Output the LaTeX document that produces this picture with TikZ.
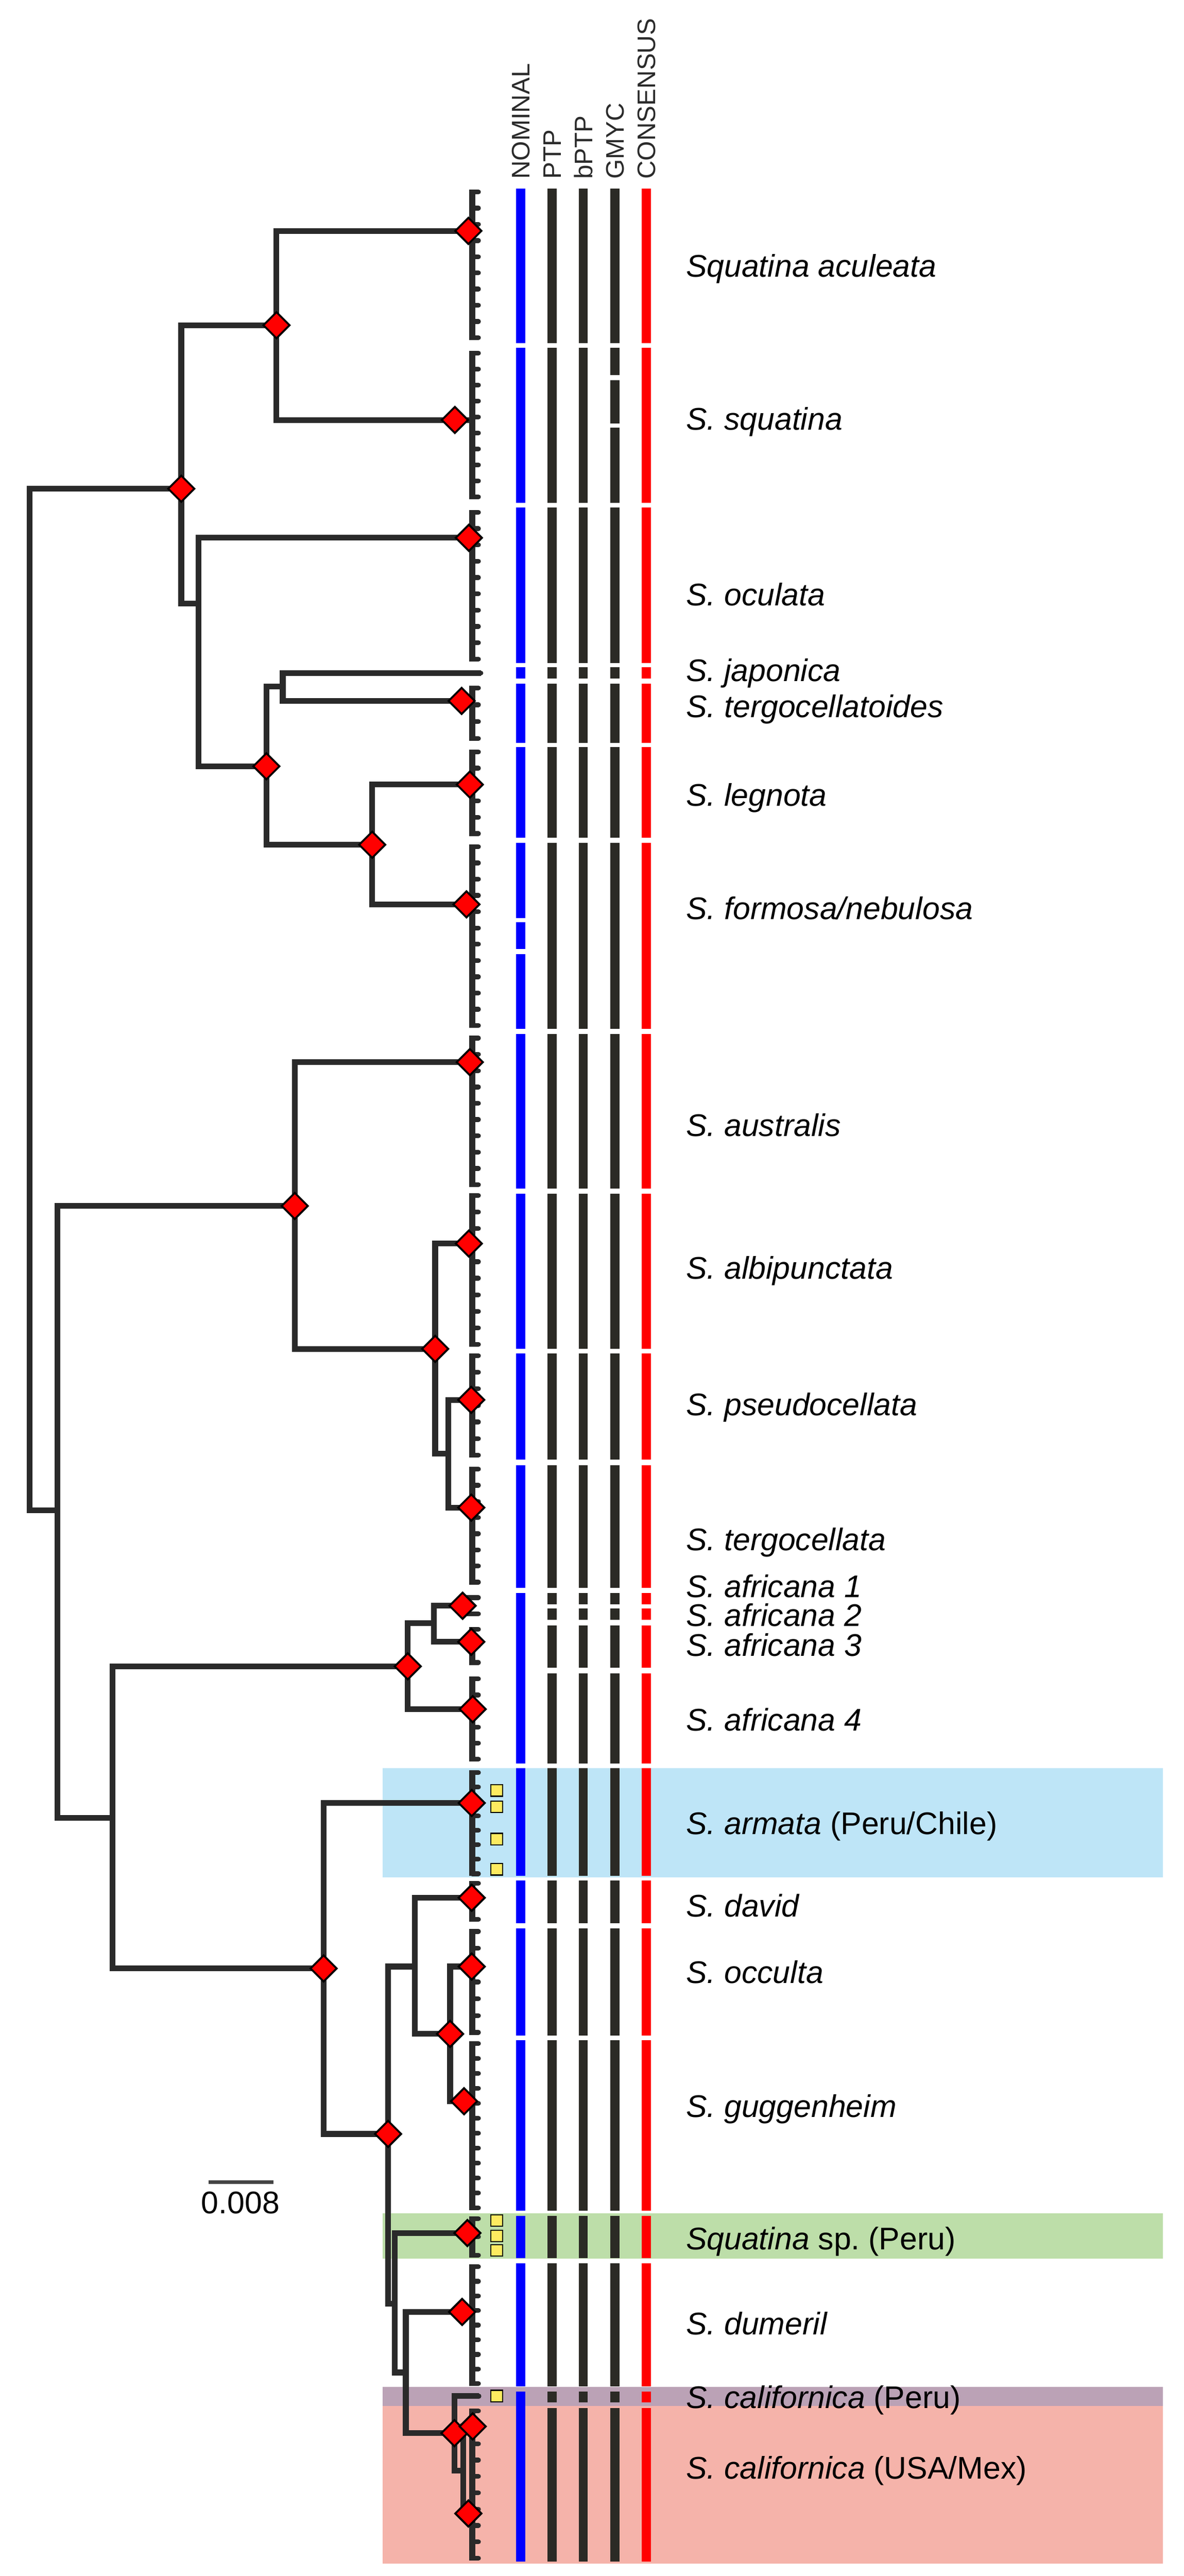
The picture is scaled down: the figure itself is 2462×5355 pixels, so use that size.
\documentclass[tikz,border=0pt]{standalone}
\usepackage{fontspec}
\setmainfont{Liberation Sans}
\usepackage{xcolor}
\usepackage{tikz}
\usetikzlibrary{shapes.geometric, positioning, backgrounds}

\definecolor{branchgray}{HTML}{2A2A2A}
\definecolor{bargray}{HTML}{2B2A25}
\definecolor{headgray}{HTML}{2B2B2B}
\definecolor{scalegray}{HTML}{444444}
\definecolor{nomblue}{HTML}{0000FF}
\definecolor{consred}{HTML}{FF0000}
\definecolor{armatabg}{HTML}{BEE5F7}
\definecolor{perubg}{HTML}{BDDEA9}
\definecolor{caliperubg}{HTML}{BBA2B6}
\definecolor{calibg}{HTML}{F5B3AA}
\definecolor{flagyellow}{HTML}{FDEB60}

% tips of one clade: x, first tip, last tip, number of tips
\newcommand{\leafgroup}[4]{%
  \draw[branch] (#1,#2-5) -- (#1,#3+5);
  \foreach \k in {1,...,#4}{%
    \pgfmathsetmacro{\leafy}{#2+(#3-#2)*(\k-1)/(#4-1)}%
    \draw[leaftick] (#1,\leafy) -- (995,\leafy);
  }%
}
% one delimitation column: x, colour, list of segments
\newcommand{\speciesbar}[3]{%
  \foreach \ya/\yb in #3 {\fill[#2] (#1-9.5,\ya) rectangle (#1+9.5,\yb);}%
}
\def\nomsegs{392/713, 723/1045, 1055/1378, 1387/1410, 1421/1544, 1553/1741, 1752/1908, 1917/1973, 1983/2139, 2150/2471, 2482/2804, 2813/3034, 3046/3301, 3312/3666, 3676/3900, 3909/3998, 4009/4231, 4241/4596, 4606/4694, 4705/4961, 4971/5325}
\def\ptpsegs{392/713, 723/1045, 1055/1378, 1387/1410, 1421/1544, 1553/1741, 1752/2139, 2150/2471, 2482/2804, 2813/3034, 3046/3301, 3312/3335, 3344/3367, 3379/3467, 3479/3666, 3676/3900, 3909/3998, 4009/4231, 4241/4596, 4606/4694, 4705/4961, 4971/4994, 5006/5325}
\def\gmycsegs{392/713, 723/780, 790/880, 889/1045, 1055/1378, 1387/1410, 1421/1544, 1553/1741, 1752/2139, 2150/2471, 2482/2804, 2813/3034, 3046/3301, 3312/3335, 3344/3367, 3379/3467, 3479/3666, 3676/3900, 3909/3998, 4009/4231, 4241/4596, 4606/4694, 4705/4961, 4971/4994, 5006/5325}

\begin{document}
\begin{tikzpicture}[
    x=0.01cm, y=-0.01cm,
    branch/.style={draw=branchgray, line width=0.12cm},
    leaftick/.style={draw=branchgray, line width=0.1cm, line cap=round},
    support/.style={diamond, draw=black, fill=red, line width=0.04cm, minimum width=0.56cm, minimum height=0.56cm, inner sep=0pt},
    peruflag/.style={rectangle, draw=black, fill=flagyellow, line width=0.025cm, minimum size=0.24cm, inner sep=0pt},
    colheader/.style={rotate=90, anchor=base west, inner sep=0pt, text=headgray, font=\fontsize{15}{15}\selectfont},
    taxon/.style={anchor=base west, inner sep=0pt, yshift=-0.23cm, font=\fontsize{18.5}{20}\selectfont\itshape},
    scalebar/.style={draw=scalegray, line width=0.07cm}
]
    \useasboundingbox (0,0) rectangle (2462,5355);

    % --- Highlight bands ---
    \begin{scope}[on background layer]
        \fill[armatabg] (796,3676) rectangle (2418,3903);
        \fill[perubg] (796,4601) rectangle (2418,4695);
        \fill[caliperubg] (796,4962) rectangle (2418,5002);
        \fill[calibg] (796,5002) rectangle (2418,5329);
    \end{scope}

    % --- Internal nodes ---
    \coordinate (nRoot) at (62,2078);
    \coordinate (nA) at (377,1016);
    \coordinate (nB) at (575,676);
    \coordinate (nC) at (413,1255);
    \coordinate (nD) at (554,1593);
    \coordinate (nE) at (588,1427);
    \coordinate (nF) at (774,1756);
    \coordinate (nJ) at (119,3140);
    \coordinate (nG) at (613,2507);
    \coordinate (nH) at (905,2804);
    \coordinate (nI) at (932,3022);
    \coordinate (nK) at (234,3779);
    \coordinate (nL) at (848,3464);
    \coordinate (nLa) at (902,3374);
    \coordinate (nM) at (673,4092);
    \coordinate (nN) at (807,4436);
    \coordinate (nO) at (863,4088);
    \coordinate (nP) at (936,4228);
    \coordinate (nQ) at (821,4789);
    \coordinate (nR) at (844,4932);
    \coordinate (nS) at (945,5058);
    \coordinate (nT) at (963,5136);

    % --- Clade bases and single tips ---
    \coordinate (cAcu) at (982,480);
    \coordinate (cSqu) at (982,873);
    \coordinate (cOcu) at (982,1118);
    \coordinate (tJap) at (1000,1399);
    \coordinate (cTerg) at (982,1457);
    \coordinate (cLeg) at (982,1631);
    \coordinate (cFor) at (982,1880);
    \coordinate (cAus) at (982,2208);
    \coordinate (cAlb) at (982,2585);
    \coordinate (cPse) at (982,2910);
    \coordinate (cTgc) at (982,3134);
    \coordinate (cAfa) at (962,3338);
    \coordinate (cAfc) at (982,3413);
    \coordinate (cAfd) at (982,3553);
    \coordinate (cArm) at (982,3748);
    \coordinate (cDav) at (982,3945);
    \coordinate (cOcc) at (982,4088);
    \coordinate (cGug) at (982,4368);
    \coordinate (cSp) at (982,4642);
    \coordinate (cDum) at (982,4806);
    \coordinate (tPeru) at (996,4981);
    \coordinate (cUSa) at (982,5044);
    \coordinate (cUSb) at (982,5225);

    % --- Branches ---
    \draw[branch] (nRoot) |- (nA);
    \draw[branch] (nRoot) |- (nJ);
    \draw[branch] (nA) |- (nB);
    \draw[branch] (nA) |- (nC);
    \draw[branch] (nB) |- (cAcu);
    \draw[branch] (nB) |- (cSqu);
    \draw[branch] (nC) |- (cOcu);
    \draw[branch] (nC) |- (nD);
    \draw[branch] (nD) |- (nE);
    \draw[branch] (nD) |- (nF);
    \draw[branch] (nE) |- (tJap);
    \draw[branch] (nE) |- (cTerg);
    \draw[branch] (nF) |- (cLeg);
    \draw[branch] (nF) |- (cFor);
    \draw[branch] (nJ) |- (nG);
    \draw[branch] (nJ) |- (nK);
    \draw[branch] (nG) |- (cAus);
    \draw[branch] (nG) |- (nH);
    \draw[branch] (nH) |- (cAlb);
    \draw[branch] (nH) |- (nI);
    \draw[branch] (nI) |- (cPse);
    \draw[branch] (nI) |- (cTgc);
    \draw[branch] (nK) |- (nL);
    \draw[branch] (nK) |- (nM);
    \draw[branch] (nL) |- (nLa);
    \draw[branch] (nL) |- (cAfd);
    \draw[branch] (nLa) |- (cAfa);
    \draw[branch] (nLa) |- (cAfc);
    \draw[branch] (nM) |- (cArm);
    \draw[branch] (nM) |- (nN);
    \draw[branch] (nN) |- (nO);
    \draw[branch] (nN) |- (nQ);
    \draw[branch] (nO) |- (cDav);
    \draw[branch] (nO) |- (nP);
    \draw[branch] (nP) |- (cOcc);
    \draw[branch] (nP) |- (cGug);
    \draw[branch] (nQ) |- (cSp);
    \draw[branch] (nQ) |- (nR);
    \draw[branch] (nR) |- (cDum);
    \draw[branch] (nR) |- (nS);
    \draw[branch] (nS) |- (tPeru);
    \draw[branch] (nS) |- (nT);
    \draw[branch] (nT) |- (cUSa);
    \draw[branch] (nT) |- (cUSb);
    \draw[leaftick] (tJap) -- ++(-5,0);
    \draw[leaftick] (tPeru) -- ++(-5,0);

    % --- Tips ---
    \leafgroup{982}{399}{702}{10}
    \leafgroup{982}{734}{1033}{10}
    \leafgroup{982}{1065}{1370}{10}
    \leafgroup{982}{1430}{1535}{4}
    \leafgroup{982}{1563}{1733}{6}
    \leafgroup{982}{1760}{2132}{12}
    \leafgroup{982}{2158}{2463}{10}
    \leafgroup{982}{2485}{2795}{10}
    \leafgroup{982}{2818}{3025}{7}
    \leafgroup{982}{3054}{3289}{8}
    \leafgroup{962}{3321}{3355}{2}
    \leafgroup{982}{3387}{3456}{3}
    \leafgroup{982}{3490}{3657}{6}
    \leafgroup{982}{3685}{3895}{8}
    \leafgroup{982}{3915}{3990}{3}
    \leafgroup{982}{4015}{4225}{7}
    \leafgroup{982}{4248}{4590}{12}
    \leafgroup{982}{4612}{4688}{3}
    \leafgroup{982}{4712}{4955}{9}
    \leafgroup{982}{5012}{5318}{10}

    % --- Support diamonds ---
    \node[support] (dA) at (nA) {};
    \node[support] (dB) at (nB) {};
    \node[support] (dD) at (nD) {};
    \node[support] (dF) at (nF) {};
    \node[support] (dG) at (nG) {};
    \node[support] (dH) at (nH) {};
    \node[support] (dL) at (nL) {};
    \node[support] (dM) at (nM) {};
    \node[support] (dN) at (nN) {};
    \node[support] (dP) at (nP) {};
    \node[support] (dAcu) at (974,480) {};
    \node[support] (dSqu) at (946,873) {};
    \node[support] (dOcu) at (975,1118) {};
    \node[support] (dTerg) at (960,1457) {};
    \node[support] (dLeg) at (977,1631) {};
    \node[support] (dFor) at (970,1880) {};
    \node[support] (dAus) at (977,2208) {};
    \node[support] (dAlb) at (975,2585) {};
    \node[support] (dPse) at (980,2910) {};
    \node[support] (dTgc) at (980,3134) {};
    \node[support] (dAfa) at (cAfa) {};
    \node[support] (dAfc) at (980,3413) {};
    \node[support] (dAfd) at (983,3553) {};
    \node[support] (dArm) at (981,3748) {};
    \node[support] (dDav) at (981,3945) {};
    \node[support] (dOcc) at (981,4088) {};
    \node[support] (dGug) at (965,4368) {};
    \node[support] (dSp) at (972,4642) {};
    \node[support] (dDum) at (961,4806) {};
    \node[support] (dS) at (nS) {};
    \node[support] (dUSa) at (983,5044) {};
    \node[support] (dUSb) at (974,5225) {};

    % --- Peru samples ---
    \node[peruflag] (fArmA) at (1033,3722) {};
    \node[peruflag] (fArmB) at (1033,3756) {};
    \node[peruflag] (fArmC) at (1033,3823) {};
    \node[peruflag] (fArmD) at (1033,3886) {};
    \node[peruflag] (fSpA) at (1033,4616) {};
    \node[peruflag] (fSpB) at (1033,4648) {};
    \node[peruflag] (fSpC) at (1033,4678) {};
    \node[peruflag] (fCal) at (1033,4981) {};

    % --- Delimitation columns ---
    \speciesbar{1083}{nomblue}{\nomsegs}
    \speciesbar{1148}{bargray}{\ptpsegs}
    \speciesbar{1213}{bargray}{\ptpsegs}
    \speciesbar{1279}{bargray}{\gmycsegs}
    \speciesbar{1344}{consred}{\ptpsegs}

    \node[colheader] (hNom) at (1102,373) {NOMINAL};
    \node[colheader] (hPtp) at (1167,373) {PTP};
    \node[colheader] (hBptp) at (1232,373) {bPTP};
    \node[colheader] (hGmyc) at (1298,373) {GMYC};
    \node[colheader] (hCons) at (1363,373) {CONSENSUS};

    % --- Species labels ---
    \node[taxon] (lAcu) at (1426,553) {Squatina aculeata};
    \node[taxon] (lSqu) at (1426,871) {S. squatina};
    \node[taxon] (lOcu) at (1426,1236) {S. oculata};
    \node[taxon] (lJap) at (1426,1393) {S. japonica};
    \node[taxon] (lTerg) at (1426,1468) {S. tergocellatoides};
    \node[taxon] (lLeg) at (1426,1653) {S. legnota};
    \node[taxon] (lFor) at (1426,1888) {S. formosa/nebulosa};
    \node[taxon] (lAus) at (1426,2339) {S. australis};
    \node[taxon] (lAlb) at (1426,2636) {S. albipunctata};
    \node[taxon] (lPse) at (1426,2920) {S. pseudocellata};
    \node[taxon] (lTgc) at (1426,3200) {S. tergocellata};
    \node[taxon] (lAfa) at (1426,3298) {S. africana 1};
    \node[taxon] (lAfb) at (1426,3358) {S. africana 2};
    \node[taxon] (lAfc) at (1426,3420) {S. africana 3};
    \node[taxon] (lAfd) at (1426,3575) {S. africana 4};
    \node[taxon] (lArm) at (1426,3790) {S. armata \upshape(Peru/Chile)};
    \node[taxon] (lDav) at (1426,3962) {S. david};
    \node[taxon] (lOcc) at (1426,4100) {S. occulta};
    \node[taxon] (lGug) at (1426,4378) {S. guggenheim};
    \node[taxon] (lSp) at (1426,4653) {Squatina \upshape sp.\ (Peru)};
    \node[taxon] (lDum) at (1426,4830) {S. dumeril};
    \node[taxon] (lCalP) at (1426,4983) {S. californica \upshape(Peru)};
    \node[taxon] (lCalU) at (1426,5130) {S. californica \upshape(USA/Mex)};

    % --- Scale bar ---
    \coordinate (sbL) at (434,4536);
    \coordinate (sbR) at (569,4536);
    \draw[scalebar] (sbL) -- (sbR);
    \node[anchor=base, inner sep=0pt, font=\fontsize{18.5}{20}\selectfont] (sbText) at (500,4602) {0.008};

\end{tikzpicture}
\end{document}
